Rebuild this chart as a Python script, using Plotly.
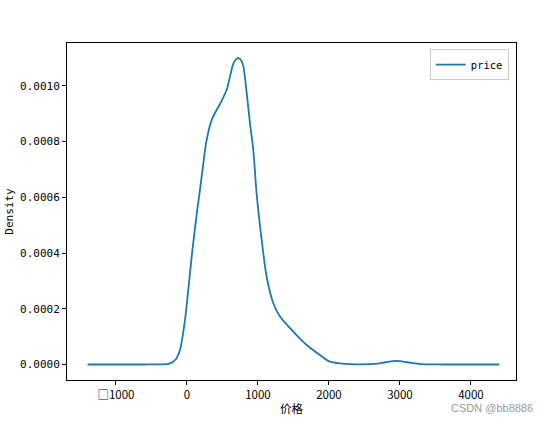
import plotly.graph_objects as go

# KDE curve of "price"
price_x = [-1400, -1000, -600, -380, -250, -160, -99, -28, 18, 66, 113, 146, 183, 230,
           277, 348, 418, 465, 559, 653, 700, 724, 760, 794, 841, 887, 934, 982, 1052,
           1122, 1216, 1310, 1497, 1685, 1873, 2014, 2155, 2400, 2650, 2800, 2953,
           3100, 3300, 3600, 4000, 4400]
density_y = [0.0, 0.0, 0.0, 0.0000005, 0.000003, 0.000018, 0.000052, 0.00016, 0.000268,
             0.000387, 0.00049, 0.000558, 0.000627, 0.000722, 0.000806, 0.000878,
             0.000914, 0.000935, 0.000986, 0.00108, 0.001098, 0.0011, 0.001093,
             0.00107, 0.000974, 0.000866, 0.00077, 0.00061, 0.000447, 0.000315,
             0.00022, 0.000172, 0.000118, 0.00007, 0.000034, 0.00001, 0.000004,
             0.0000005, 0.000002, 0.000008, 0.0000126, 0.000008, 0.000001, 0.0, 0.0,
             0.0]

x_tickvals = [-1000, 0, 1000, 2000, 3000, 4000]
x_ticktext = ["□1000", "0", "1000", "2000", "3000", "4000"]
y_tickvals = [0.0, 0.0002, 0.0004, 0.0006, 0.0008, 0.0010]
y_ticktext = ["0.0000", "0.0002", "0.0004", "0.0006", "0.0008", "0.0010"]

mono = "DejaVu Sans Mono"

fig = go.Figure()
fig.add_trace(go.Scatter(
    x=price_x, y=density_y, mode="lines", name="price",
    line=dict(color="#1f77b4", width=1.8, shape="spline", smoothing=0.8),
))

fig.update_layout(
    width=550, height=422,
    margin=dict(l=67, r=34, t=43, b=42, autoexpand=False),
    paper_bgcolor="white", plot_bgcolor="white",
    font=dict(family=mono, size=11, color="black"),
    showlegend=True,
    legend=dict(x=0.984, y=0.982, xanchor="right", yanchor="top",
                bordercolor="#cccccc", borderwidth=1, bgcolor="white",
                font=dict(family=mono, size=10.5)),
    xaxis=dict(range=[-1690, 4634], tickvals=x_tickvals, ticktext=x_ticktext,
               showgrid=False, zeroline=False, showline=True, mirror=True,
               linecolor="black", linewidth=1, ticks="outside", ticklen=4,
               tickcolor="black", automargin=False,
               tickfont=dict(family="Noto Sans CJK SC, " + mono, size=11.5),
               title=dict(text="价格", font=dict(family="Noto Sans CJK SC", size=11.5),
                          standoff=4)),
    yaxis=dict(range=[-0.0000557, 0.001154], tickvals=y_tickvals, ticktext=y_ticktext,
               showgrid=False, zeroline=False, showline=True, mirror=True,
               linecolor="black", linewidth=1, ticks="outside", ticklen=4,
               tickcolor="black", automargin=False,
               title=dict(text="Density", font=dict(family=mono, size=11),
                          standoff=4)),
)

fig.add_annotation(text="CSDN @bb8886", xref="paper", yref="paper",
                   x=1.042, y=-0.083, xanchor="right", yanchor="middle",
                   showarrow=False,
                   font=dict(family="Liberation Sans", size=11, color="#999999"))

fig.write_html("out.html", config={"displayModeBar": False},
               post_script="document.body.style.margin='0px';document.body.style.overflow='hidden';")
